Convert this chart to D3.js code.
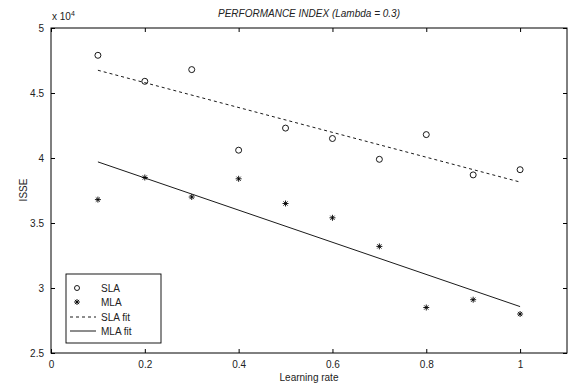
<!DOCTYPE html>
<html><head><meta charset="utf-8">
<script src="https://cdn.jsdelivr.net/npm/d3@7"></script>
<style>
body{margin:0;background:#fff;}
svg{display:block;font-family:"Liberation Sans",Arial,sans-serif;}
</style></head>
<body><svg id="c" width="576" height="386"></svg>
<script>
const learningRates = [0.1,0.2,0.3,0.4,0.5,0.6,0.7,0.8,0.9,1.0];
const slaValues = [47900,45900,46800,40600,42300,41500,39900,41800,38700,39100];
const mlaValues = [36800,38500,37000,38400,36500,35400,33200,28500,29100,28000];
const fitX = [0.1,1.0];
const slaFit = [46750,38150];
const mlaFit = [39700,28570];
const xTicks = [0,0.2,0.4,0.6,0.8,1];
const yTicks = [25000,30000,35000,40000,45000,50000];
const legendLabels = ["SLA","MLA","SLA fit","MLA fit"];

const svg = d3.select("#c");
const L=51,R=567,T=28,B=353;
const x = d3.scaleLinear().domain([0,1.1]).range([L,R]);
const y = d3.scaleLinear().domain([25000,50000]).range([B,T]);

// box
svg.append("rect").attr("x",L).attr("y",T).attr("width",R-L).attr("height",B-T)
  .attr("fill","none").attr("stroke","#000").attr("stroke-width",1);

const fmtX = d=> d===0?"0":(d===1?"1":d3.format(".1f")(d));
const fmtY = d=> { const v=d/1e4; return Number.isInteger(v)?String(v):v.toFixed(1); };

const ax = svg.append("g").attr("transform",`translate(0,${B})`)
  .call(d3.axisBottom(x).tickValues(xTicks).tickSizeInner(-4).tickSizeOuter(0).tickPadding(8).tickFormat(fmtX));
const axT = svg.append("g").attr("transform",`translate(0,${T})`)
  .call(d3.axisTop(x).tickValues(xTicks).tickSizeInner(-4).tickSizeOuter(0).tickFormat(""));
const ay = svg.append("g").attr("transform",`translate(${L},0)`)
  .call(d3.axisLeft(y).tickValues(yTicks).tickSizeInner(-4).tickSizeOuter(0).tickPadding(7).tickFormat(fmtY));
const ayR = svg.append("g").attr("transform",`translate(${R},0)`)
  .call(d3.axisRight(y).tickValues(yTicks).tickSizeInner(-4).tickSizeOuter(0).tickFormat(""));
[ax,axT,ay,ayR].forEach(g=>{
  g.select(".domain").remove();
  g.selectAll("text").attr("font-size",10).attr("fill","#222").attr("font-family","Liberation Sans, Arial, sans-serif");
  g.selectAll("line").attr("stroke","#000");
});

// fit lines
const line = d3.line().x(d=>x(d[0])).y(d=>y(d[1]));
svg.append("path").datum(fitX.map((v,i)=>[v,slaFit[i]])).attr("d",line)
  .attr("fill","none").attr("stroke","#000").attr("stroke-width",0.9).attr("stroke-dasharray","3,3");
svg.append("path").datum(fitX.map((v,i)=>[v,mlaFit[i]])).attr("d",line)
  .attr("fill","none").attr("stroke","#000").attr("stroke-width",0.9);

// markers
svg.append("g").selectAll("circle").data(learningRates).join("circle")
  .attr("cx",d=>x(d)).attr("cy",(d,i)=>y(slaValues[i])).attr("r",3)
  .attr("fill","none").attr("stroke","#000").attr("stroke-width",0.9);
const star = d3.symbol().type(d3.symbolAsterisk||d3.symbolCross).size(22);
function starPath(g,cx,cy){
  const s=3;
  g.append("path").attr("d",`M${cx-s},${cy}L${cx+s},${cy}M${cx},${cy-s}L${cx},${cy+s}M${cx-s*0.7},${cy-s*0.7}L${cx+s*0.7},${cy+s*0.7}M${cx-s*0.7},${cy+s*0.7}L${cx+s*0.7},${cy-s*0.7}`)
   .attr("stroke","#000").attr("stroke-width",0.9).attr("fill","none");
}
const mg = svg.append("g");
learningRates.forEach((d,i)=>starPath(mg,x(d),y(mlaValues[i])));

// legend
const lg = svg.append("g");
lg.append("rect").attr("x",66).attr("y",274).attr("width",95).attr("height",69)
  .attr("fill","#fff").attr("stroke","#000").attr("stroke-width",0.9);
const ly = [288,302,317,331];
lg.append("circle").attr("cx",77).attr("cy",ly[0]).attr("r",2.5).attr("fill","none").attr("stroke","#000").attr("stroke-width",0.9);
starPath(lg,77,ly[1]);
lg.append("line").attr("x1",70).attr("x2",96).attr("y1",ly[2]).attr("y2",ly[2]).attr("stroke","#000").attr("stroke-width",0.9).attr("stroke-dasharray","3,3");
lg.append("line").attr("x1",70).attr("x2",96).attr("y1",ly[3]).attr("y2",ly[3]).attr("stroke","#000").attr("stroke-width",0.9);
legendLabels.forEach((t,i)=>lg.append("text").attr("x",101).attr("y",ly[i]+3.5).attr("font-size",10).attr("fill","#222").text(t));

// titles
svg.append("text").attr("x",309).attr("y",17).attr("text-anchor","middle").attr("font-size",10)
  .attr("font-style","italic").attr("fill","#222").text("PERFORMANCE INDEX (Lambda = 0.3)");
svg.append("text").attr("x",309).attr("y",381).attr("text-anchor","middle").attr("font-size",10)
  .attr("fill","#222").text("Learning rate");
svg.append("text").attr("transform","translate(27,190) rotate(-90)").attr("text-anchor","middle").attr("font-size",10)
  .attr("fill","#222").text("ISSE");
const ex = svg.append("text").attr("x",52).attr("y",20).attr("font-size",10).attr("fill","#222");
ex.append("tspan").text("x 10");
ex.append("tspan").attr("dy",-4).attr("font-size",7).text("4");
</script></body></html>
